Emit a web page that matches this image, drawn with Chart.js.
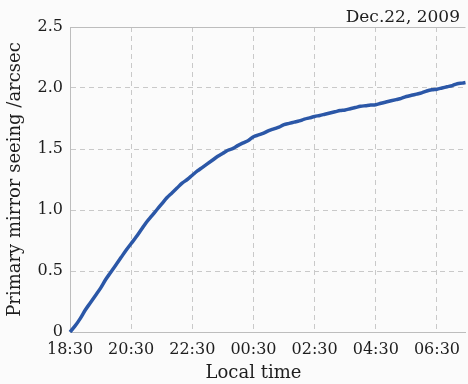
<!DOCTYPE html>
<html>
<head>
<meta charset="utf-8">
<script src="https://cdn.jsdelivr.net/npm/chart.js@4"></script>
<style>
  html, body { margin: 0; padding: 0; background: #fbfbfb; }
  #wrap { width: 468px; height: 384px; position: relative; }
</style>
</head>
<body>
<div id="wrap"><canvas id="c" width="468" height="384"></canvas></div>
<script>
// Minutes elapsed since 18:30 local time
const minutes = [0, 10, 20, 30, 40, 50, 60, 70, 80, 90, 100, 110, 120, 130, 140, 150, 160, 170, 180, 190,
  200, 210, 220, 230, 240, 250, 260, 270, 280, 290, 300, 310, 320, 330, 340, 350, 360, 370, 380, 390,
  400, 410, 420, 430, 440, 450, 460, 470, 480, 490, 500, 510, 520, 530, 540, 550, 560, 570, 580, 590,
  600, 610, 620, 630, 640, 650, 660, 670, 680, 690, 700, 710, 720, 730, 740, 750, 760, 770, 776];

// Primary mirror seeing (arcsec)
const seeing = [0.00, 0.05, 0.11, 0.18, 0.24, 0.30, 0.36, 0.43, 0.49, 0.55, 0.61, 0.67, 0.725, 0.78, 0.84, 0.90, 0.95, 1.00, 1.05, 1.10,
  1.14, 1.18, 1.22, 1.25, 1.285, 1.32, 1.35, 1.38, 1.41, 1.44, 1.465, 1.49, 1.505, 1.53, 1.55, 1.57, 1.60, 1.615, 1.63, 1.65,
  1.665, 1.68, 1.70, 1.71, 1.72, 1.73, 1.745, 1.755, 1.767, 1.775, 1.785, 1.795, 1.805, 1.815, 1.82, 1.83, 1.84, 1.85, 1.855, 1.86,
  1.863, 1.875, 1.885, 1.895, 1.905, 1.915, 1.93, 1.94, 1.95, 1.96, 1.975, 1.985, 1.99, 2.00, 2.01, 2.02, 2.035, 2.04, 2.045];

const xTickValues = [0, 120, 240, 360, 480, 600, 720];
const xTickLabels = ['18:30', '20:30', '22:30', '00:30', '02:30', '04:30', '06:30'];
const yTickValues = [0, 0.5, 1.0, 1.5, 2.0, 2.5];
const yTickLabels = ['0', '0.5', '1.0', '1.5', '2.0', '2.5'];

const dateLabel = 'Dec.22, 2009';
const xTitle = 'Local time';
const yTitle = 'Primary mirror seeing /arcsec';

const FONT = 'DejaVu Serif';
const TEXT = '#1e1e1e';
const AXIS = '#bdbdbd';
const GRID = '#c9c9c9';

const extras = {
  id: 'extras',
  beforeDraw(chart) {
    const ctx = chart.ctx;
    ctx.save();
    ctx.fillStyle = '#fbfbfb';
    ctx.fillRect(0, 0, chart.width, chart.height);
    ctx.restore();
  },
  afterDraw(chart) {
    const { ctx, chartArea, scales } = chart;
    ctx.save();
    // top frame line
    ctx.strokeStyle = AXIS;
    ctx.lineWidth = 1;
    ctx.beginPath();
    ctx.moveTo(chartArea.left, chartArea.top + 0.5);
    ctx.lineTo(chartArea.right, chartArea.top + 0.5);
    ctx.stroke();
    // date in the upper right corner
    ctx.fillStyle = TEXT;
    ctx.font = '17px "' + FONT + '"';
    ctx.textAlign = 'right';
    ctx.textBaseline = 'alphabetic';
    ctx.fillText(dateLabel, chart.width - 8, 22);
    // x axis title, centred under the labelled span
    const cx = (scales.x.getPixelForValue(xTickValues[0]) + scales.x.getPixelForValue(xTickValues[xTickValues.length - 1])) / 2;
    ctx.font = '18px "' + FONT + '"';
    ctx.textAlign = 'center';
    ctx.fillText(xTitle, cx, 378);
    ctx.restore();
  }
};

new Chart(document.getElementById('c'), {
  type: 'line',
  data: {
    datasets: [{
      data: minutes.map((m, i) => ({ x: m, y: seeing[i] })),
      borderColor: '#2b57a7',
      borderWidth: 3.5,
      pointRadius: 0,
      cubicInterpolationMode: 'monotone',
      fill: false,
      clip: false
    }]
  },
  options: {
    responsive: false,
    animation: false,
    events: [],
    layout: { padding: { top: 27, right: 0, left: 0, bottom: 0 } },
    plugins: { legend: { display: false }, tooltip: { enabled: false }, title: { display: false } },
    scales: {
      x: {
        type: 'linear',
        min: 0,
        max: 776,
        afterBuildTicks(scale) { scale.ticks = xTickValues.map(v => ({ value: v })); },
        afterFit(scale) { scale.height = 52; },
        ticks: {
          autoSkip: false,
          maxRotation: 0,
          padding: 8,
          color: TEXT,
          font: { family: FONT, size: 16 },
          callback(v) { const i = xTickValues.indexOf(v); return i >= 0 ? xTickLabels[i] : ''; }
        },
        grid: { color: GRID, lineWidth: 1, drawTicks: false },
        border: { display: true, color: AXIS, width: 1, dash: [5, 4] }
      },
      y: {
        min: 0,
        max: 2.5,
        afterBuildTicks(scale) { scale.ticks = yTickValues.map(v => ({ value: v })); },
        afterFit(scale) { scale.width = 70; },
        ticks: {
          padding: 7,
          color: TEXT,
          font: { family: FONT, size: 16 },
          callback(v) { const i = yTickValues.indexOf(v); return i >= 0 ? yTickLabels[i] : ''; }
        },
        title: { display: true, text: yTitle, color: TEXT, font: { family: FONT, size: 18 }, padding: { top: 5, bottom: 2 } },
        grid: { color: GRID, lineWidth: 1, drawTicks: false },
        border: { display: true, color: AXIS, width: 1, dash: [5, 4] }
      }
    }
  },
  plugins: [extras]
});
</script>
</body>
</html>
